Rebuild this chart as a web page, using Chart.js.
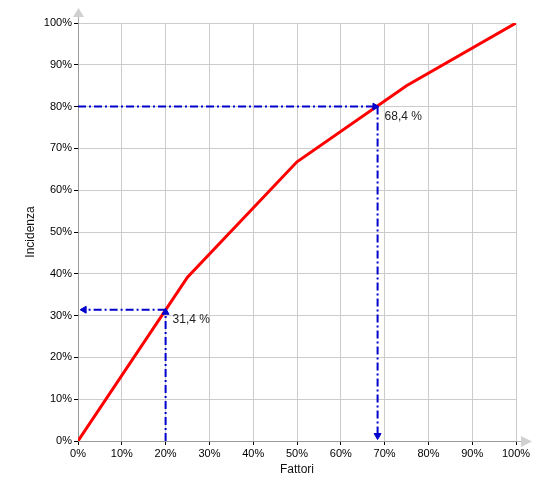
<!DOCTYPE html>
<html lang="it">
<head>
<meta charset="UTF-8" />
<title>Incidenza / Fattori</title>
<style>
  body { margin: 0; background: #fff; }
  #chart { display: block; }
</style>
</head>
<body>
<canvas id="chart" width="550" height="500"></canvas>
<script src="https://cdn.jsdelivr.net/npm/chart.js@4.4.0/dist/chart.umd.min.js"></script>
<script>
  // Dati
  const fattori = [0, 25, 50, 75, 100];
  const incidenza = [0, 39.2, 66.8, 85, 100];
  const markX = [20, 68.4];
  const markY = [31.4, 80];
  const markLabels = ['31,4 %', '68,4 %'];

  const blu = '#0000cc';
  const tratto = [8, 3, 2, 3];

  function freccia(a, b, rot) {
    return {
      data: [a, b],
      borderColor: blu,
      backgroundColor: blu,
      borderWidth: 2,
      borderDash: tratto,
      pointRadius: [0, 4],
      pointStyle: 'triangle',
      pointRotation: rot,
      pointBorderWidth: 1,
      clip: false,
      order: 0
    };
  }

  // frecce grigie alla fine degli assi + etichette dei valori
  const decorazioni = {
    id: 'decorazioni',
    afterDraw(chart) {
      const { ctx, chartArea: a, scales: { x, y } } = chart;
      ctx.save();
      ctx.strokeStyle = '#aaa';
      ctx.lineWidth = 1;
      ctx.beginPath();
      ctx.moveTo(a.left + 0.5, a.top); ctx.lineTo(a.left + 0.5, a.top - 7);
      ctx.moveTo(a.right, a.bottom + 0.5); ctx.lineTo(a.right + 6, a.bottom + 0.5);
      ctx.stroke();
      ctx.fillStyle = '#d0d0d0';
      ctx.beginPath();
      ctx.moveTo(a.left + 0.5, a.top - 15);
      ctx.lineTo(a.left - 5, a.top - 6);
      ctx.lineTo(a.left + 6, a.top - 6);
      ctx.closePath();
      ctx.fill();
      ctx.beginPath();
      ctx.moveTo(a.right + 16, a.bottom + 0.5);
      ctx.lineTo(a.right + 5, a.bottom - 5);
      ctx.lineTo(a.right + 5, a.bottom + 6);
      ctx.closePath();
      ctx.fill();

      ctx.fillStyle = '#222';
      ctx.font = '12px "Liberation Sans", Arial, sans-serif';
      ctx.textBaseline = 'middle';
      ctx.textAlign = 'left';
      markX.forEach((v, i) => {
        ctx.fillText(markLabels[i], x.getPixelForValue(v) + 7, y.getPixelForValue(markY[i]) + 10);
      });
      ctx.restore();
    }
  };

  const ctx = document.getElementById('chart').getContext('2d');

  new Chart(ctx, {
    type: 'line',
    data: {
      datasets: [
        {
          data: fattori.map((v, i) => ({ x: v, y: incidenza[i] })),
          borderColor: '#ff0000',
          borderWidth: 3,
          pointRadius: 0,
          tension: 0,
          order: 1
        },
        freccia({ x: markX[0], y: 0 }, { x: markX[0], y: markY[0] - 0.6 }, 0),
        freccia({ x: markX[0], y: markY[0] }, { x: 1.4, y: markY[0] }, 270),
        freccia({ x: 0, y: markY[1] }, { x: markX[1] - 0.6, y: markY[1] }, 90),
        freccia({ x: markX[1], y: markY[1] }, { x: markX[1], y: 1.3 }, 180)
      ]
    },
    options: {
      responsive: false,
      animation: false,
      events: [],
      layout: { padding: { left: 10, top: 23, right: 34, bottom: 10 } },
      scales: {
        x: {
          type: 'linear',
          min: 0,
          max: 100,
          afterFit(s) { s.height = 49; },
          ticks: {
            stepSize: 10,
            padding: 2,
            color: '#000',
            font: { family: '"Liberation Sans", Arial, sans-serif', size: 11 },
            callback: v => v + '%'
          },
          grid: { color: '#cccccc', tickColor: '#000', tickLength: 4 },
          border: { color: '#999' },
          title: {
            display: true,
            text: 'Fattori',
            color: '#111',
            padding: { top: 0, bottom: 13 },
            font: { family: '"Liberation Sans", Arial, sans-serif', size: 12 }
          }
        },
        y: {
          type: 'linear',
          min: 0,
          max: 100,
          afterFit(s) { s.width = 68; },
          ticks: {
            stepSize: 10,
            padding: 2,
            color: '#000',
            font: { family: '"Liberation Sans", Arial, sans-serif', size: 11 },
            callback: v => v + '%'
          },
          grid: { color: '#cccccc', tickColor: '#000', tickLength: 4 },
          border: { color: '#999' },
          title: {
            display: true,
            text: 'Incidenza',
            color: '#111',
            padding: { top: 13, bottom: 0 },
            font: { family: '"Liberation Sans", Arial, sans-serif', size: 12 }
          }
        }
      },
      plugins: {
        legend: { display: false },
        tooltip: { enabled: false }
      }
    },
    plugins: [decorazioni]
  });
</script>
</body>
</html>
